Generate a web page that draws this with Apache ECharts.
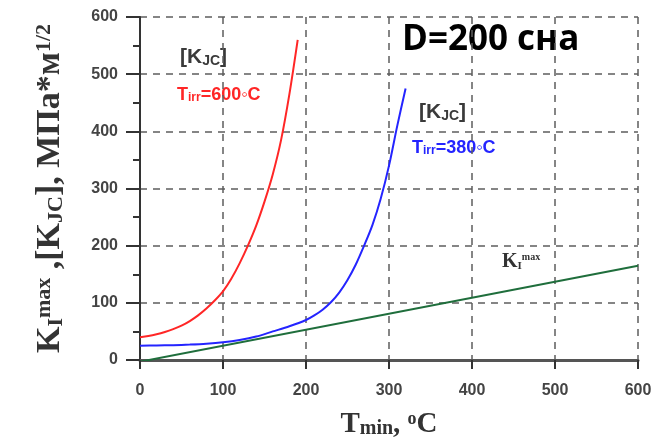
<!DOCTYPE html>
<html>
<head>
<meta charset="utf-8">
<script src="https://cdn.jsdelivr.net/npm/echarts@6/dist/echarts.min.js"></script>
<style>
  html, body { margin: 0; padding: 0; background: #fff; }
  #chart { width: 667px; height: 439px; }
</style>
</head>
<body>
<div id="chart"></div>
<script>
// T_irr = 600 C
const redX = [0, 10, 20, 30, 40, 50, 60, 70, 80, 90, 100, 110, 120, 130, 140, 150, 160, 170, 180, 190]
const redY = [40, 42, 45, 49, 54, 60, 68, 78, 90, 104, 120, 142, 169, 200, 235, 277, 325, 385, 465, 560]
// T_irr = 380 C
const blueX = [0, 20, 40, 60, 80, 100, 120, 140, 160, 180, 200, 210, 220, 230, 240, 250, 260, 270, 280, 290, 300, 310, 320]
const blueY = [25, 25.5, 26, 27, 28.5, 31, 35, 41, 50, 59, 70, 78, 88, 101, 118, 140, 167, 200, 236, 282, 340, 410, 475]
// K_I max
const greenX = [0, 600]
const greenY = [-3, 165]

const xTicks = [0, 100, 200, 300, 400, 500, 600]
const yTicks = [0, 100, 200, 300, 400, 500, 600]

const pairs = (xs, ys) => xs.map((x, i) => [x, ys[i]])

const serif = '"Liberation Serif", "DejaVu Serif", serif'
const sans = '"Liberation Sans", Arial, sans-serif'

const chart = echarts.init(document.getElementById('chart'))

const gridLine = {
  show: true,
  lineStyle: { color: '#5e5e5e', type: [7, 6], width: 1.5 },
}

const option = {
  animation: false,
  grid: { left: 140, right: 29, top: 17, bottom: 79, outerBoundsMode: 'none', containLabel: false },
  xAxis: {
    type: 'value',
    min: xTicks[0],
    max: xTicks[xTicks.length - 1],
    interval: 100,
    axisLine: { show: true, onZero: false, lineStyle: { color: '#555', width: 3 } },
    axisTick: { show: true, length: 9, lineStyle: { color: '#333', width: 2 } },
    axisLabel: { color: '#444', fontFamily: sans, fontWeight: 'bold', fontSize: 16, margin: 23 },
    splitLine: gridLine,
    name: '{t|T}{sub|min}{t|, }{sup|o}{t|C}',
    nameLocation: 'middle',
    nameGap: 50,
    nameTextStyle: {
      rich: {
        t: { fontFamily: serif, fontWeight: 'bold', fontSize: 29, color: '#333' },
        sub: { fontFamily: serif, fontWeight: 'bold', fontSize: 20, color: '#333', verticalAlign: 'bottom' },
        sup: { fontFamily: serif, fontWeight: 'bold', fontSize: 18, color: '#333', verticalAlign: 'top' },
      },
    },
  },
  yAxis: {
    type: 'value',
    min: yTicks[0],
    max: yTicks[yTicks.length - 1],
    interval: 100,
    axisLine: { show: true, lineStyle: { color: '#333', width: 2 } },
    axisTick: { show: true, length: 14, lineStyle: { color: '#333', width: 2 } },
    minorTick: { show: true, splitNumber: 2, length: 7, lineStyle: { color: '#333', width: 2 } },
    axisLabel: { color: '#444', fontFamily: sans, fontWeight: 'bold', fontSize: 16, margin: 22 },
    splitLine: gridLine,
    name: '{k|K}{sub|I}{sup|max}{k| ,[K}{sub|JC}{k|], МПа*м}{sup|1/2}',
    nameLocation: 'middle',
    nameRotate: 90,
    nameGap: 73,
    nameTextStyle: {
      rich: {
        k: { fontFamily: serif, fontWeight: 'bold', fontSize: 34, color: '#333' },
        sub: { fontFamily: serif, fontWeight: 'bold', fontSize: 22, color: '#333', verticalAlign: 'bottom' },
        sup: { fontFamily: serif, fontWeight: 'bold', fontSize: 22, color: '#333', verticalAlign: 'top' },
      },
    },
  },
  series: [
    {
      name: 'Tirr600',
      type: 'line',
      data: pairs(redX, redY),
      showSymbol: false,
      smooth: 0.3,
      lineStyle: { color: '#ff2626', width: 2 },
    },
    {
      name: 'Tirr380',
      type: 'line',
      data: pairs(blueX, blueY),
      showSymbol: false,
      smooth: 0.3,
      lineStyle: { color: '#2424ff', width: 2 },
    },
    {
      name: 'KImax',
      type: 'line',
      data: pairs(greenX, greenY),
      showSymbol: false,
      lineStyle: { color: '#1f6e3c', width: 2 },
    },
  ],
  graphic: [
    {
      type: 'text',
      left: 402,
      top: 23,
      style: { text: 'D=200 сна', font: 'bold 35px "Open Sans", "Noto Sans", sans-serif', fill: '#000' },
    },
    {
      type: 'text',
      left: 180,
      top: 47,
      style: {
        text: '{b|[K}{s|JC}{b|]}',
        rich: {
          b: { fontFamily: sans, fontWeight: 'bold', fontSize: 21, fill: '#3a3a3a' },
          s: { fontFamily: sans, fontWeight: 'bold', fontSize: 14, fill: '#3a3a3a', verticalAlign: 'bottom' },
        },
      },
    },
    {
      type: 'text',
      left: 177,
      top: 86,
      style: {
        text: '{b|T}{s|irr}{b|=600◦C}',
        rich: {
          b: { fontFamily: sans, fontWeight: 'bold', fontSize: 18, fill: '#ff2626' },
          s: { fontFamily: sans, fontWeight: 'bold', fontSize: 12, fill: '#ff2626', verticalAlign: 'bottom' },
        },
      },
    },
    {
      type: 'text',
      left: 419,
      top: 102,
      style: {
        text: '{b|[K}{s|JC}{b|]}',
        rich: {
          b: { fontFamily: sans, fontWeight: 'bold', fontSize: 21, fill: '#3a3a3a' },
          s: { fontFamily: sans, fontWeight: 'bold', fontSize: 14, fill: '#3a3a3a', verticalAlign: 'bottom' },
        },
      },
    },
    {
      type: 'text',
      left: 412,
      top: 139,
      style: {
        text: '{b|T}{s|irr}{b|=380◦C}',
        rich: {
          b: { fontFamily: sans, fontWeight: 'bold', fontSize: 18, fill: '#2424ff' },
          s: { fontFamily: sans, fontWeight: 'bold', fontSize: 12, fill: '#2424ff', verticalAlign: 'bottom' },
        },
      },
    },
    {
      type: 'text',
      left: 502,
      top: 252,
      style: {
        text: '{b|K}{s|I}{p|max}',
        rich: {
          b: { fontFamily: serif, fontWeight: 'bold', fontSize: 20, fill: '#333' },
          s: { fontFamily: serif, fontWeight: 'bold', fontSize: 11, fill: '#333', verticalAlign: 'bottom' },
          p: { fontFamily: serif, fontWeight: 'bold', fontSize: 10, fill: '#333', verticalAlign: 'top' },
        },
      },
    },
  ],
}

chart.setOption(option)
</script>
</body>
</html>
